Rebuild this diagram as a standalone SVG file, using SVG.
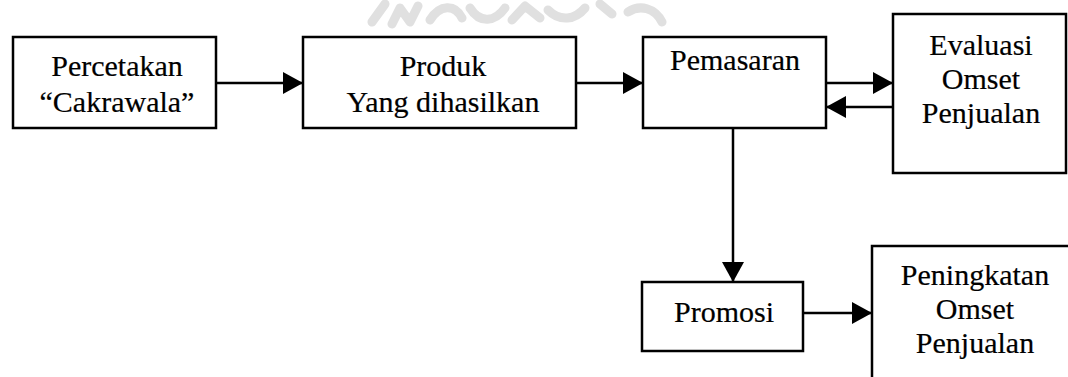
<svg xmlns="http://www.w3.org/2000/svg" width="1068" height="377" viewBox="0 0 1068 377">
<style>
.box{fill:#fff;stroke:#000;stroke-width:2.5}
.t{font-family:"Liberation Serif","Times New Roman",serif;font-size:30px;fill:#000;stroke:#000;stroke-width:0.2;text-anchor:middle}
.c{fill:none;stroke:#000;stroke-width:2.5}
.wm{fill:none;stroke:#e0e0e0;stroke-width:9;stroke-linecap:round;stroke-linejoin:round}
</style>
<defs>
<marker id="ah" markerUnits="userSpaceOnUse" markerWidth="22" markerHeight="24" refX="20" refY="11" orient="auto">
<path d="M0,0 L20,11 L0,22 Z" fill="#000"/>
</marker>
</defs>
<rect width="1068" height="377" fill="#fff"/>
<g id="watermark">
<path class="wm" d="M372,22 L385,4 M392,24 L400,8 L410,22 L418,6 M430,20 C440,4 455,4 462,18 M470,8 C480,24 495,22 505,8 M512,20 L525,6 L540,18 M548,10 C560,22 575,20 585,8 M600,4 L612,14 M628,12 C640,4 655,8 662,22"/>
</g>
<g id="connectors">
<line class="c" x1="216" y1="83" x2="303" y2="83" marker-end="url(#ah)"/>
<line class="c" x1="576" y1="83" x2="643" y2="83" marker-end="url(#ah)"/>
<line class="c" x1="826" y1="83" x2="893" y2="83" marker-end="url(#ah)"/>
<line class="c" x1="893" y1="107" x2="826" y2="107" marker-end="url(#ah)"/>
<line class="c" x1="733" y1="128" x2="733" y2="282" marker-end="url(#ah)"/>
<line class="c" x1="803" y1="313" x2="872" y2="313" marker-end="url(#ah)"/>
</g>
<g id="percetakan">
<rect class="box" x="13" y="37" width="203" height="91"/>
<text class="t" x="117" y="76">Percetakan</text>
<text class="t" x="117" y="112">“Cakrawala”</text>
</g>
<g id="produk">
<rect class="box" x="303" y="37" width="273" height="91"/>
<text class="t" x="443" y="76">Produk</text>
<text class="t" x="443" y="112">Yang dihasilkan</text>
</g>
<g id="pemasaran">
<rect class="box" x="643" y="37" width="183" height="91"/>
<text class="t" x="735" y="70">Pemasaran</text>
</g>
<g id="evaluasi">
<rect class="box" x="893" y="14" width="173" height="159"/>
<text class="t" x="981" y="55">Evaluasi</text>
<text class="t" x="981" y="89">Omset</text>
<text class="t" x="981" y="123">Penjualan</text>
</g>
<g id="promosi">
<rect class="box" x="642" y="282" width="161" height="69"/>
<text class="t" x="724" y="322">Promosi</text>
</g>
<g id="peningkatan">
<rect class="box" x="872" y="246" width="230" height="160"/>
<text class="t" x="975" y="285">Peningkatan</text>
<text class="t" x="975" y="319">Omset</text>
<text class="t" x="975" y="353">Penjualan</text>
</g>
</svg>
